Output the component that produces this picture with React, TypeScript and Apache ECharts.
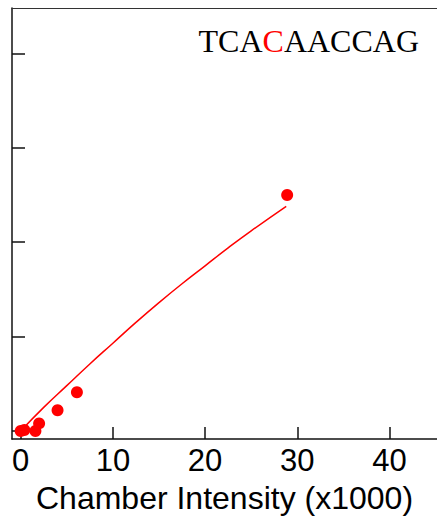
import React, { useEffect, useRef } from "react";
import * as echarts from "echarts";

// Measured points
const pointX = [0.0, 0.4, 1.6, 2.0, 4.0, 6.1, 28.9];
const pointY = [0.0, 0.01, 0.0, 0.08, 0.22, 0.41, 2.5];

// Fitted curve
const fitX = [0, 2.5, 5, 7.5, 10, 12.5, 15, 17.5, 20, 22.5, 25, 28.8];
const fitY = [0.0, 0.25, 0.48, 0.71, 0.93, 1.15, 1.36, 1.56, 1.75, 1.94, 2.12, 2.38];

const xTickLabels = [0, 10, 20, 30, 40];
const yTicks = [0, 1, 2, 3, 4];

const seqBefore = "TCA";
const seqMark = "C";
const seqAfter = "AACCAG";

export default function App() {
  const ref = useRef<HTMLDivElement>(null);
  useEffect(() => {
    if (!ref.current) return;
    const chart = echarts.init(ref.current, null, { renderer: "svg" });
    const axisColor = "#111";
    chart.setOption({
      animation: false,
      backgroundColor: "#fff",
      grid: { left: 12, top: 8, right: 0, bottom: 77, containLabel: false, outerBoundsMode: "none" },
      xAxis: [
        {
          type: "value",
          min: -0.94,
          max: 45.15,
          splitNumber: 5,
          name: "Chamber Intensity (x1000)",
          nameLocation: "middle",
          nameGap: 43,
          nameTextStyle: { fontFamily: "Liberation Sans", fontSize: 32, color: "#000" },
          axisLine: { show: true, onZero: false, lineStyle: { color: axisColor, width: 1.5 } },
          axisTick: {
            show: true,
            inside: true,
            length: 12,
            customValues: xTickLabels,
            lineStyle: { color: axisColor, width: 1.5 },
          },
          axisLabel: {
            show: true,
            margin: 6,
            customValues: xTickLabels,
            fontFamily: "Liberation Sans",
            fontSize: 31,
            color: "#000",
            showMinLabel: true,
            showMaxLabel: true,
            formatter: (v: number) => (xTickLabels.indexOf(Math.round(v * 1000) / 1000) >= 0 ? String(v) : ""),
          },
          splitLine: { show: false },
        },
        {
          type: "value",
          position: "top",
          min: -0.94,
          max: 45.15,
          axisLine: { show: true, onZero: false, lineStyle: { color: "#333", width: 1.2 } },
          axisTick: { show: false },
          axisLabel: { show: false },
          splitLine: { show: false },
        },
      ],
      yAxis: {
        type: "value",
        min: -0.085,
        max: 4.481,
        splitNumber: 5,
        axisLine: { show: true, onZero: false, lineStyle: { color: axisColor, width: 1.5 } },
        axisTick: {
          show: true,
          inside: true,
          length: 13,
          customValues: yTicks,
          lineStyle: { color: axisColor, width: 1.5 },
        },
        axisLabel: { show: false },
        splitLine: { show: false },
      },
      series: [
        {
          type: "line",
          data: fitX.map((x, i) => [x, fitY[i]]),
          showSymbol: false,
          symbol: "none",
          smooth: true,
          lineStyle: { color: "#ff0000", width: 1.5 },
          z: 2,
        },
        {
          type: "scatter",
          data: pointX.map((x, i) => [x, pointY[i]]),
          symbolSize: 12,
          itemStyle: { color: "#ff0000", opacity: 1 },
          z: 3,
        },
      ],
      graphic: [
        {
          type: "text",
          x: 419,
          y: 41,
          style: {
            text: `{a|${seqBefore}}{b|${seqMark}}{a|${seqAfter}}`,
            align: "right",
            verticalAlign: "middle",
            rich: {
              a: { fontFamily: "Liberation Serif", fontSize: 32, fill: "#000", color: "#000" },
              b: { fontFamily: "Liberation Serif", fontSize: 32, fill: "#ff0000", color: "#ff0000" },
            },
          },
        },
      ],
    });
    return () => chart.dispose();
  }, []);
  return (
    <div
      ref={ref}
      style={{ position: "fixed", left: 0, top: 0, width: 437, height: 516, background: "#fff" }}
    />
  );
}
